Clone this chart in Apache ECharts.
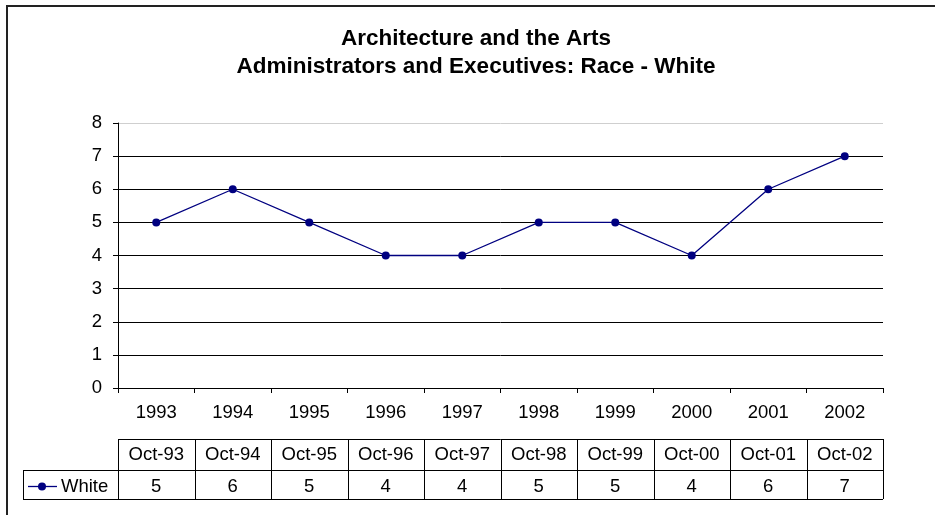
<!DOCTYPE html>
<html>
<head>
<meta charset="utf-8">
<script src="https://cdn.jsdelivr.net/npm/echarts@6/dist/echarts.min.js"></script>
<style>
  html, body { margin: 0; padding: 0; background: #fff; }
  #main { width: 935px; height: 515px; }
</style>
</head>
<body>
<div id="main"></div>
<script>
// 数据
var years = ['1993', '1994', '1995', '1996', '1997', '1998', '1999', '2000', '2001', '2002'];
var months = ['Oct-93', 'Oct-94', 'Oct-95', 'Oct-96', 'Oct-97', 'Oct-98', 'Oct-99', 'Oct-00', 'Oct-01', 'Oct-02'];
var white = [5, 6, 5, 4, 4, 5, 5, 4, 6, 7];
var yTicks = [0, 1, 2, 3, 4, 5, 6, 7, 8];

var font = 'Liberation Sans, Arial, sans-serif';
var fs = 18.5;
var W = 935, H = 515;
// 绘图区
var gL = 118, gR = 883, gT = 123, gB = 388;
// 数据表
var tTop = 439, tMid = 470, tBot = 499, legL = 23;

var chart = echarts.init(document.getElementById('main'));

// 表格线
var lines = [];
function seg(x1, y1, x2, y2, color, w) {
  lines.push({ type: 'line', silent: true,
    shape: { x1: x1, y1: y1, x2: x2, y2: y2 },
    style: { stroke: color || '#000', lineWidth: w || 1 } });
}
var bw = (gR - gL) / years.length;
seg(gL, tTop + 0.5, gR, tTop + 0.5);
seg(legL, tMid + 0.5, gR, tMid + 0.5);
seg(legL, tBot + 0.5, gR, tBot + 0.5);
seg(legL + 0.5, tMid, legL + 0.5, tBot);
for (var i = 0; i <= years.length; i++) {
  var x = Math.round(gL + i * bw) + 0.5;
  seg(x, tTop, x, tBot);
}
// 图例
var ly = (tMid + tBot) / 2 + 2;
seg(28, ly, 57, ly, '#000080', 1.3);
lines.push({ type: 'circle', silent: true, shape: { cx: 42, cy: ly, r: 4 }, style: { fill: '#000080' } });
lines.push({ type: 'text', silent: true, style: { x: 61, y: ly, text: 'White', font: fs + 'px ' + font, fill: '#000', verticalAlign: 'middle' } });
// 外框
lines.push({ type: 'rect', silent: true, shape: { x: 7, y: 6, width: W, height: H }, style: { fill: 'none', stroke: '#222', lineWidth: 2 } });

var gridColors = yTicks.map(function (v, i) { return i === yTicks.length - 1 ? '#cfcfcf' : '#000'; });

var hiddenAxis = {
  type: 'category',
  position: 'bottom',
  axisLine: { show: false },
  axisTick: { show: false },
  splitLine: { show: false }
};

var option = {
  animation: false,
  backgroundColor: '#fff',
  title: {
    text: 'Architecture and the Arts\nAdministrators and Executives: Race - White',
    left: 471,
    top: 20,
    textAlign: 'center',
    textStyle: { fontFamily: font, fontSize: 22.5, fontWeight: 'bold', color: '#000', lineHeight: 28 }
  },
  grid: { left: gL, right: W - gR, top: gT, bottom: H - gB },
  xAxis: [{
    type: 'category',
    data: years,
    boundaryGap: true,
    axisLine: { lineStyle: { color: '#000', width: 1 } },
    axisTick: { show: true, inside: false, length: 5, lineStyle: { color: '#000' } },
    axisLabel: { color: '#000', fontFamily: font, fontSize: fs, margin: 15 },
    splitLine: { show: false }
  }, Object.assign({}, hiddenAxis, {
    data: months,
    offset: 53,
    axisLabel: { color: '#000', fontFamily: font, fontSize: fs, margin: 4 }
  }), Object.assign({}, hiddenAxis, {
    data: white.map(String),
    offset: 85,
    axisLabel: { color: '#000', fontFamily: font, fontSize: fs, margin: 4 }
  })],
  yAxis: {
    type: 'value',
    min: 0,
    max: 8,
    interval: 1,
    axisLine: { show: true, lineStyle: { color: '#000', width: 1 } },
    axisTick: { show: true, inside: false, length: 5, lineStyle: { color: '#000' } },
    axisLabel: { color: '#000', fontFamily: font, fontSize: fs, margin: 16 },
    splitLine: { show: true, lineStyle: { color: gridColors, width: 1 } }
  },
  series: [{
    name: 'White',
    type: 'line',
    data: white,
    symbol: 'circle',
    symbolSize: 8,
    itemStyle: { color: '#000080' },
    lineStyle: { color: '#000080', width: 1.3 }
  }],
  graphic: lines
};

chart.setOption(option);
</script>
</body>
</html>
